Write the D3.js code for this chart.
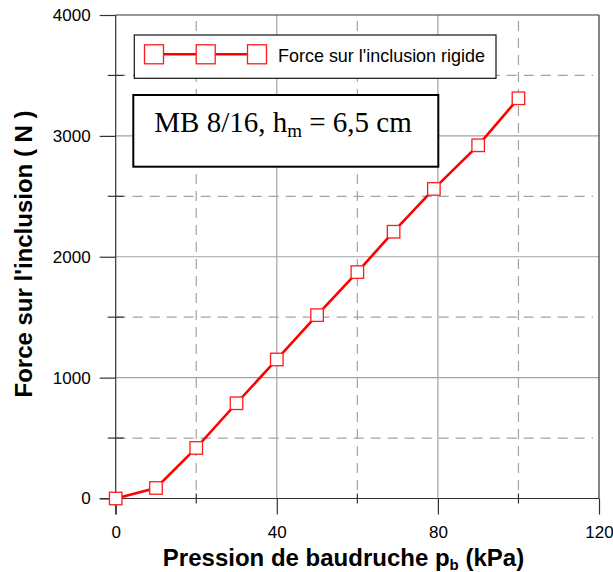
<!DOCTYPE html>
<html>
<head>
<meta charset="utf-8">
<script src="https://cdn.jsdelivr.net/npm/d3@7"></script>
<style>
  html, body { margin: 0; padding: 0; background: #fff; }
  svg { display: block; }
  text { font-family: "Liberation Sans", Arial, Helvetica, sans-serif; }
</style>
</head>
<body>
<svg id="chart" width="613" height="572"></svg>
<script>
// ---- data ----
const pressure = [0, 10, 20, 30, 40, 50, 60, 69, 79, 90, 100];          // kPa
const force    = [0, 87, 418, 788, 1150, 1517, 1873, 2207, 2561, 2922, 3311]; // N
const xMajorTicks = [0, 40, 80, 120];
const xMinorTicks = [20, 60, 100];
const yMajorTicks = [0, 1000, 2000, 3000, 4000];
const yMinorTicks = [500, 1500, 2500, 3500];
const seriesName = "Force sur l'inclusion rigide";
const xTitle = ["Pression de baudruche p", "b", " (kPa)"];
const yTitle = "Force sur l'inclusion ( N )";
const note = ["MB 8/16, h", "m", " = 6,5 cm"];

const svg = d3.select("#chart");
const L = 115.7, R = 599, T = 15, B = 498.5;
const x = d3.scaleLinear().domain([0, 120]).range([L, R]);
const y = d3.scaleLinear().domain([0, 4000]).range([B, T]);

const gridCol = "#a3a3a3", axisCol = "#333";

// grid
const g = svg.append("g");
g.selectAll(".vmaj").data(xMajorTicks.filter(d => d > 0 && d < 120)).enter().append("line")
  .attr("x1", d => x(d)).attr("x2", d => x(d)).attr("y1", T).attr("y2", B)
  .attr("stroke", gridCol).attr("stroke-width", 1.2);
g.selectAll(".vmin").data(xMinorTicks).enter().append("line")
  .attr("x1", d => x(d)).attr("x2", d => x(d)).attr("y1", T + 6).attr("y2", B)
  .attr("stroke", gridCol).attr("stroke-width", 1.2).attr("stroke-dasharray", "10,7");
g.selectAll(".hmaj").data(yMajorTicks.filter(d => d > 0 && d < 4000)).enter().append("line")
  .attr("x1", L).attr("x2", R).attr("y1", d => y(d)).attr("y2", d => y(d))
  .attr("stroke", gridCol).attr("stroke-width", 1.2);
g.selectAll(".hmin").data(yMinorTicks).enter().append("line")
  .attr("x1", L).attr("x2", R - 6).attr("y1", d => y(d)).attr("y2", d => y(d))
  .attr("stroke", gridCol).attr("stroke-width", 1.2).attr("stroke-dasharray", "10,7");

// frame top/right
svg.append("line").attr("x1", L).attr("x2", R).attr("y1", T).attr("y2", T).attr("stroke", axisCol).attr("stroke-width", 1.2);
svg.append("line").attr("x1", R).attr("x2", R).attr("y1", T).attr("y2", B).attr("stroke", axisCol).attr("stroke-width", 1.2);

// axes
const yAxis = d3.axisLeft(y).tickValues(yMajorTicks).tickSize(16).tickPadding(9).tickFormat(d3.format("d"));
const ya = svg.append("g").attr("transform", `translate(${L},0)`).call(yAxis);
ya.select(".domain").attr("d", `M0,${T}V${B + 16}`).attr("stroke", axisCol).attr("stroke-width", 1.2);
ya.selectAll(".tick line").attr("stroke", axisCol).attr("stroke-width", 1.2);
ya.selectAll(".tick text").attr("font-size", 17).attr("fill", "#000")
  .style("font-family", "'Liberation Sans', Arial, sans-serif");
svg.append("g").selectAll("line").data(yMinorTicks).enter().append("line")
  .attr("x1", L - 8).attr("x2", L + 8).attr("y1", d => y(d)).attr("y2", d => y(d))
  .attr("stroke", axisCol).attr("stroke-width", 1.2);

const xAxis = d3.axisBottom(x).tickValues(xMajorTicks).tickSize(16).tickPadding(11).tickFormat(d3.format("d"));
const xa = svg.append("g").attr("transform", `translate(0,${B})`).call(xAxis);
xa.select(".domain").attr("d", `M${L - 16},0H${R}`).attr("stroke", axisCol).attr("stroke-width", 1.2);
xa.selectAll(".tick line").attr("stroke", axisCol).attr("stroke-width", 1.2);
xa.selectAll(".tick text").attr("font-size", 17).attr("fill", "#000")
  .style("font-family", "'Liberation Sans', Arial, sans-serif");
svg.append("g").selectAll("line").data(xMinorTicks).enter().append("line")
  .attr("x1", d => x(d)).attr("x2", d => x(d)).attr("y1", B - 5).attr("y2", B + 5)
  .attr("stroke", axisCol).attr("stroke-width", 1.2);

// series
const pts = pressure.map((p, i) => [p, force[i]]);
svg.append("path").datum(pts)
  .attr("d", d3.line().x(d => x(d[0])).y(d => y(d[1])))
  .attr("fill", "none").attr("stroke", "#ff0000").attr("stroke-width", 2.6);
const ms = 12.5;
svg.append("g").selectAll("rect").data(pts).enter().append("rect")
  .attr("x", d => x(d[0]) - ms / 2).attr("y", d => y(d[1]) - ms / 2)
  .attr("width", ms).attr("height", ms)
  .attr("fill", "#fff").attr("stroke", "#ff1a1a").attr("stroke-width", 1.3);

// legend
const lg = svg.append("g");
lg.append("rect").attr("x", 134.3).attr("y", 35).attr("width", 361.7).attr("height", 43.3)
  .attr("fill", "#fff").attr("stroke", "#111").attr("stroke-width", 1.2);
const lmx = [154, 205.7, 257], lmy = 54.3, lms = 19;
lg.append("line").attr("x1", lmx[0]).attr("x2", lmx[2]).attr("y1", lmy).attr("y2", lmy)
  .attr("stroke", "#ff0000").attr("stroke-width", 2.6);
lg.selectAll(".lm").data(lmx).enter().append("rect")
  .attr("x", d => d - lms / 2).attr("y", lmy - lms / 2).attr("width", lms).attr("height", lms)
  .attr("fill", "#fff").attr("stroke", "#ff1a1a").attr("stroke-width", 1.3);
lg.append("text").attr("x", 278).attr("y", 62).attr("font-size", 19).attr("fill", "#000")
  .attr("textLength", 207).attr("lengthAdjust", "spacingAndGlyphs").text(seriesName);

// note box
const nb = svg.append("g");
nb.append("rect").attr("x", 133.3).attr("y", 95).attr("width", 305).attr("height", 71.7)
  .attr("fill", "#fff").attr("stroke", "#000").attr("stroke-width", 2);
const nt = nb.append("text").attr("x", 154.3).attr("y", 131.7).attr("font-size", 29)
  .style("font-family", "'Liberation Serif', 'Times New Roman', serif").attr("fill", "#000");
nt.append("tspan").text(note[0]);
nt.append("tspan").attr("font-size", 19).attr("dy", 5).text(note[1]);
nt.append("tspan").attr("dy", -5).text(note[2]);

// axis titles
const xt = svg.append("text").attr("x", 343.5).attr("y", 565.5).attr("text-anchor", "middle")
  .attr("font-size", 24).attr("font-weight", "bold").attr("fill", "#000");
xt.append("tspan").text(xTitle[0]);
xt.append("tspan").attr("font-size", 15).attr("dy", 4).text(xTitle[1]);
xt.append("tspan").attr("dy", -4).text(xTitle[2]);

svg.append("text").attr("transform", "translate(31.5,254) rotate(-90)").attr("text-anchor", "middle")
  .attr("font-size", 24).attr("font-weight", "bold").attr("fill", "#000").text(yTitle);
</script>
</body>
</html>
